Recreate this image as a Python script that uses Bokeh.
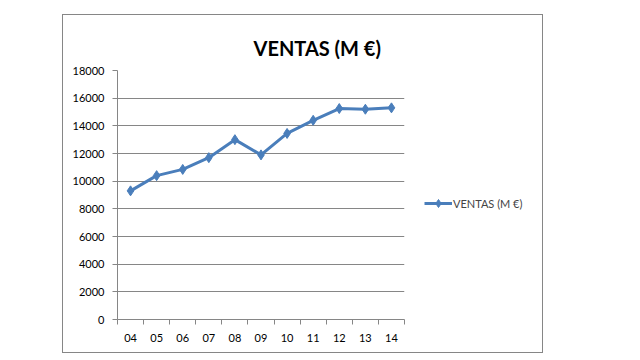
from bokeh.plotting import figure
from bokeh.layouts import row, column
from bokeh.models import (Range1d, FixedTicker, Legend, LegendItem,
                          ColumnDataSource, Spacer)
from bokeh.embed import file_html
from bokeh.resources import INLINE

years = ["04", "05", "06", "07", "08", "09", "10", "11", "12", "13", "14"]
ventas = [9300, 10400, 10850, 11700, 13000, 11900, 13450, 14400, 15250, 15200, 15300]
y_ticks = [0, 2000, 4000, 6000, 8000, 10000, 12000, 14000, 16000, 18000]
title_text = "VENTAS (M €)"

FONT = "Lato"
GRAY = "#868686"
BLUE = "#4A7EBB"

xs = [i + 0.5 for i in range(len(years))]
src = ColumnDataSource(dict(x=xs, y=ventas))

# main chart
p = figure(width=347, height=337, output_backend="svg", toolbar_location=None,
           x_range=Range1d(0, len(years)), y_range=Range1d(0, 18000),
           min_border_left=54, min_border_right=6, min_border_top=55,
           min_border_bottom=33)
p.outline_line_color = None
p.background_fill_color = "white"
p.border_fill_color = "white"

p.title.text = title_text
p.title.align = "left"
p.title.offset = 136
p.title.text_font = FONT
p.title.text_font_size = "20px"
p.title.text_font_style = "bold"
p.title.text_color = "#000000"
p.title.standoff = 21

xa = p.xaxis[0]
xa.ticker = FixedTicker(ticks=xs, minor_ticks=list(range(len(years) + 1)))
xa.major_label_overrides = {x: lab for x, lab in zip(xs, years)}
xa.major_tick_line_color = None
xa.major_tick_out = 0
xa.major_tick_in = 0
xa.minor_tick_out = 5
xa.minor_tick_in = 0
xa.minor_tick_line_color = GRAY
xa.axis_line_color = GRAY
xa.major_label_standoff = 9
xa.major_label_text_font = FONT
xa.major_label_text_font_size = "11px"
xa.major_label_text_color = "#000000"

ya = p.yaxis[0]
ya.ticker = FixedTicker(ticks=y_ticks)
ya.minor_tick_line_color = None
ya.major_tick_out = 5
ya.major_tick_in = 0
ya.major_tick_line_color = GRAY
ya.axis_line_color = GRAY
ya.major_label_standoff = 8
ya.major_label_text_font = FONT
ya.major_label_text_font_size = "11px"
ya.major_label_text_color = "#000000"

p.xgrid.visible = False
p.ygrid.ticker = FixedTicker(ticks=y_ticks)
p.ygrid.grid_line_color = GRAY
p.ygrid.grid_line_width = 1

p.line("x", "y", source=src, line_color=BLUE, line_width=3)
p.scatter("x", "y", source=src, marker="diamond", size=10,
          fill_color=BLUE, line_color=BLUE)

# legend panel (same series, drawn out of view; only its legend shows)
pl = figure(width=132, height=337, output_backend="svg", toolbar_location=None,
            x_range=Range1d(-100, -99), y_range=Range1d(-100, -99),
            x_axis_type=None, y_axis_type=None,
            min_border_left=0, min_border_right=0, min_border_top=0,
            min_border_bottom=0)
pl.outline_line_color = None
pl.background_fill_color = "white"
pl.border_fill_color = "white"
ln2 = pl.line("x", "y", source=src, line_color=BLUE, line_width=3)
sc2 = pl.scatter("x", "y", source=src, marker="diamond", size=8,
                 fill_color=BLUE, line_color=BLUE)
legend = Legend(items=[LegendItem(label=title_text, renderers=[ln2, sc2])],
                location=(14, 106), glyph_width=28, glyph_height=20,
                label_text_font=FONT, label_text_font_size="11px",
                label_standoff=1, padding=0, margin=0, spacing=0,
                border_line_color=None, background_fill_alpha=0)
pl.add_layout(legend, "center")

chart = row(p, pl, styles={"outline": "1px solid #868686"})
layout = row(Spacer(width=63, height=10),
             column(Spacer(width=10, height=15), chart))

open("out.html", "w").write(file_html(layout, INLINE))
